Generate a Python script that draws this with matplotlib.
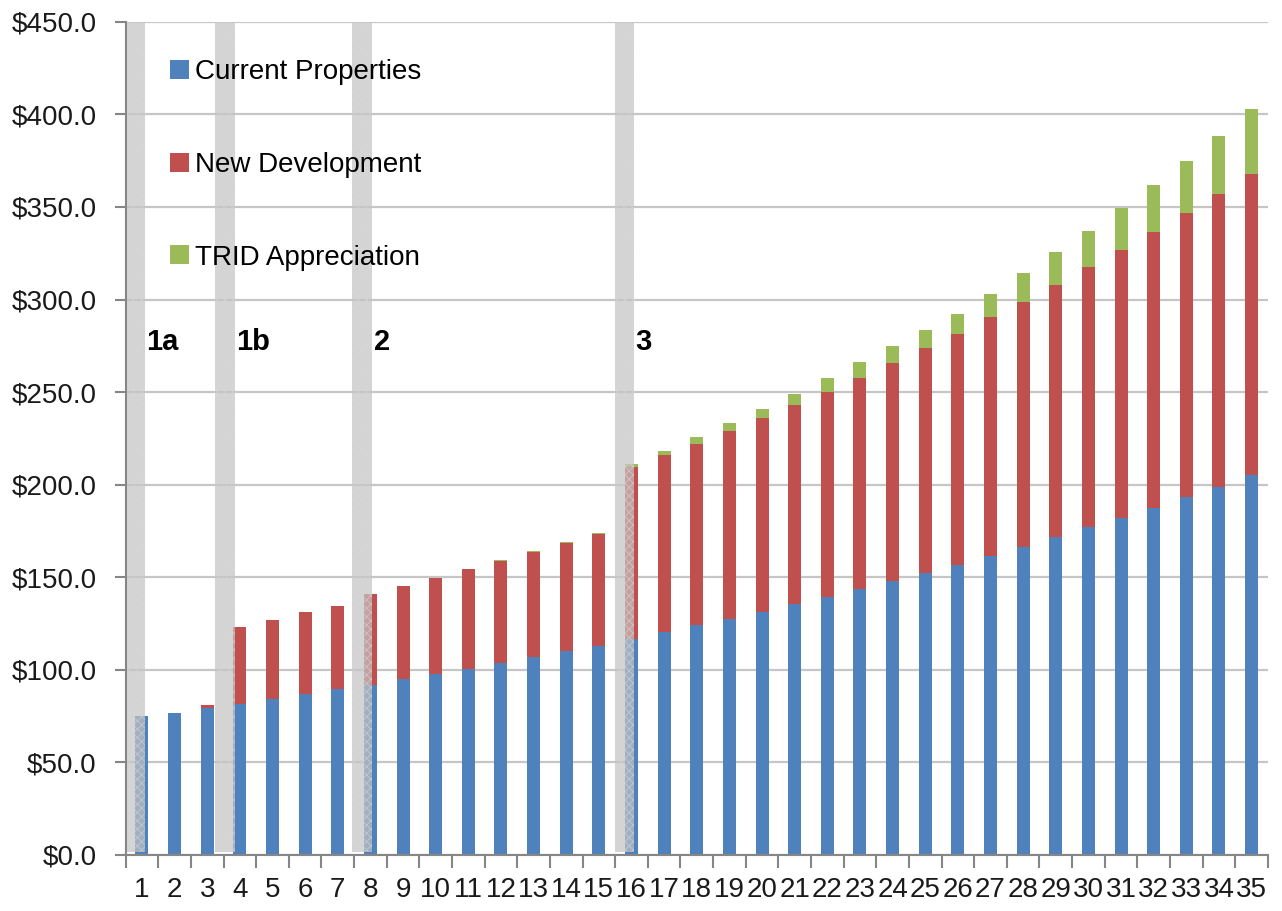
import numpy as np
import matplotlib
matplotlib.use("Agg")
import matplotlib.pyplot as plt

plt.rcParams['font.family'] = ['Liberation Sans', 'DejaVu Sans']
plt.rcParams['hatch.linewidth'] = 0.6

years = list(range(1, 36))
current = [75.3, 76.8, 79.6, 81.6, 84.0, 87.0, 89.5, 92.0, 95.0, 97.8,
           100.5, 103.7, 107.0, 110.0, 113.0, 116.7, 120.4, 124.0, 127.6, 131.5,
           135.6, 139.4, 143.7, 148.0, 152.3, 156.7, 161.5, 166.6, 171.8, 177.2,
           182.0, 187.5, 193.4, 198.8, 205.3]
new_dev = [0.0, 0.0, 1.2, 41.4, 43.0, 44.0, 45.0, 49.0, 50.5, 51.8,
           54.0, 55.1, 56.7, 58.6, 60.4, 92.9, 95.6, 98.0, 101.4, 104.3,
           107.4, 110.6, 114.0, 117.8, 121.6, 124.8, 129.1, 132.2, 136.2, 140.5,
           144.8, 149.1, 153.4, 158.2, 162.6]
trid = [0.0, 0.0, 0.0, 0.0, 0.0, 0.0, 0.0, 0.0, 0.0, 0.0,
        0.2, 0.4, 0.5, 0.5, 0.6, 1.4, 2.0, 3.5, 4.4, 5.2,
        6.0, 7.7, 8.6, 9.2, 9.7, 10.8, 12.4, 15.4, 17.8, 19.3,
        22.7, 25.4, 28.2, 31.4, 35.1]

# phase markers: (band left, band right, label, label x)
phases = [(0.54, 1.09, '1a', 1.12),
          (3.23, 3.85, '1b', 3.88),
          (7.45, 8.06, '2', 8.10),
          (15.48, 16.09, '3', 16.12)]

blue = '#4F81BD'
red = '#C0504D'
green = '#9BBB59'
grey = '#868686'

fig = plt.figure(figsize=(12.82, 9.11), dpi=100)
ax = fig.add_axes([0.098, 0.0615, 0.891, 0.9145])

x = np.array(years)
cur = np.array(current)
dev = np.array(new_dev)
tr = np.array(trid)
w = 0.4
ax.bar(x, cur, w, color=blue, label='Current Properties', zorder=2)
ax.bar(x, dev, w, bottom=cur, color=red, label='New Development', zorder=2)
ax.bar(x, tr, w, bottom=cur + dev, color=green, label='TRID Appreciation', zorder=2)

for left, right, lab, lx in phases:
    ax.bar(left, 448.5, right - left, bottom=1.5, align='edge',
           facecolor='#c4c4c4', edgecolor='#d4d4d4', hatch='xxxx',
           linewidth=0, alpha=0.7, zorder=3)
    ax.text(lx, 277, lab, fontsize=21, fontweight='bold', color='black',
            ha='left', va='center', zorder=4)

ax.set_xlim(0.5, 35.5)
ax.set_ylim(0, 450)
ax.set_yticks(np.arange(0, 451, 50))
ax.set_yticklabels(['${:.1f}'.format(v) for v in np.arange(0, 451, 50)])
ax.set_xticks(x)
ax.set_xticklabels([str(v) for v in years])
ax.set_xticks(np.arange(0.5, 36, 1), minor=True)

ax.tick_params(axis='x', which='major', length=0, pad=16, labelsize=20,
               labelcolor='#1a1a1a')
ax.tick_params(axis='x', which='minor', length=9, width=1.5, color=grey,
               direction='out')
ax.tick_params(axis='y', length=8, width=1.5, color=grey, pad=13,
               labelsize=20, labelcolor='#1a1a1a')

ax.grid(axis='y', color='#c6c6c6', linewidth=1.6, zorder=0)
ax.set_axisbelow(True)
for side in ['top', 'right']:
    ax.spines[side].set_visible(False)
for side in ['left', 'bottom']:
    ax.spines[side].set_color(grey)
    ax.spines[side].set_linewidth(1.5)

ax.legend(loc='upper left', bbox_to_anchor=(0.0385, 0.955), frameon=False,
          fontsize=20, labelspacing=2.4, handlelength=0.68, handleheight=0.68,
          handletextpad=0.25, borderpad=0, borderaxespad=0)

fig.savefig('out.png', dpi=100)
